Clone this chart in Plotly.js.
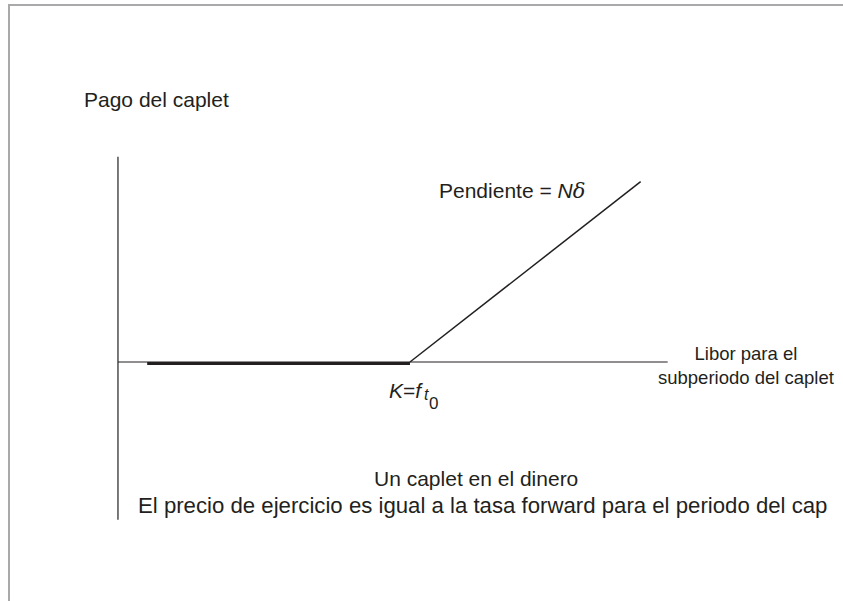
<!DOCTYPE html>
<html>
<head>
<meta charset="utf-8">
<script src="https://cdn.plot.ly/plotly-3.0.1.min.js"></script>
<style>
  html, body { margin: 0; padding: 0; background: #fff; }
  #chart { width: 843px; height: 601px; }
</style>
</head>
<body>
<div id="chart"></div>
<script>
// payoff of an at-the-money caplet (strike K = forward rate)
var libor = [0.4, 4, 7.16];
var pago = [0, 0, 2.47];

// axis extents
var ejeX = [0, 7.53];
var ejeY = [-2.16, 2.81];

var font = 'Liberation Sans, Arial, Helvetica, sans-serif';
var ink = '#231f20';

var data = [
  // horizontal axis
  { x: ejeX, y: [0, 0], mode: 'lines', line: {color: ink, width: 1.2}, hoverinfo: 'skip' },
  // vertical axis
  { x: [0, 0], y: ejeY, mode: 'lines', line: {color: ink, width: 1.2}, hoverinfo: 'skip' },
  // flat part of the payoff (thick)
  { x: libor.slice(0, 2), y: [pago[0] - 0.02, pago[1] - 0.02], mode: 'lines',
    line: {color: ink, width: 3}, hoverinfo: 'skip' },
  // sloped part
  { x: libor.slice(1), y: pago.slice(1), mode: 'lines', line: {color: ink, width: 1.5}, hoverinfo: 'skip' }
];

var layout = {
  width: 843,
  height: 601,
  margin: {l: 0, r: 0, t: 0, b: 0},
  showlegend: false,
  paper_bgcolor: '#fff',
  plot_bgcolor: '#fff',
  xaxis: {range: [-1.616, 9.932], visible: false, fixedrange: true},
  yaxis: {range: [-3.274, 4.959], visible: false, fixedrange: true},
  font: {family: font, color: ink, size: 21},
  shapes: [
    { type: 'line', xref: 'paper', yref: 'paper', x0: 9 / 843, x1: 9 / 843, y0: 0, y1: 1 - 5 / 601,
      line: {color: '#a9a9ab', width: 2} },
    { type: 'line', xref: 'paper', yref: 'paper', x0: 8 / 843, x1: 1, y0: 1 - 5 / 601, y1: 1 - 5 / 601,
      line: {color: '#a9a9ab', width: 2} }
  ],
  annotations: [
    { text: 'Pago del caplet', x: -0.493, y: 3.59, xanchor: 'left', yanchor: 'middle',
      showarrow: false },
    { text: 'Pendiente = <i>N</i><span style="font-family:DejaVu Serif"><i>δ</i></span>',
      x: 4.37, y: 2.34, xanchor: 'left', yanchor: 'middle', showarrow: false },
    // strike label K = f_{t_0}, pieces placed by hand
    { text: '<i>K</i>=<i>f</i>', x: 4.205, y: -0.384, xanchor: 'right', yanchor: 'middle',
      showarrow: false },
    { text: '<i>t</i>', x: 4.17, y: -0.44, xanchor: 'left', yanchor: 'middle',
      showarrow: false, font: {size: 16} },
    { text: '0', x: 4.24, y: -0.57, xanchor: 'left', yanchor: 'middle',
      showarrow: false, font: {size: 17} },
    { text: 'Libor para el<br>subperiodo del caplet', x: 8.6, y: -0.05,
      xanchor: 'center', yanchor: 'middle', showarrow: false, align: 'center', font: {size: 18.5} },
    { text: 'Un caplet en el dinero', x: 4.9, y: -1.59, xanchor: 'center', yanchor: 'middle',
      showarrow: false, font: {size: 21} },
    { text: 'El precio de ejercicio es igual a la tasa forward para el periodo del cap',
      x: 4.99, y: -1.97, xanchor: 'center', yanchor: 'middle', showarrow: false, font: {size: 22.2} }
  ]
};

Plotly.newPlot('chart', data, layout, {displayModeBar: false, staticPlot: true});
</script>
</body>
</html>
